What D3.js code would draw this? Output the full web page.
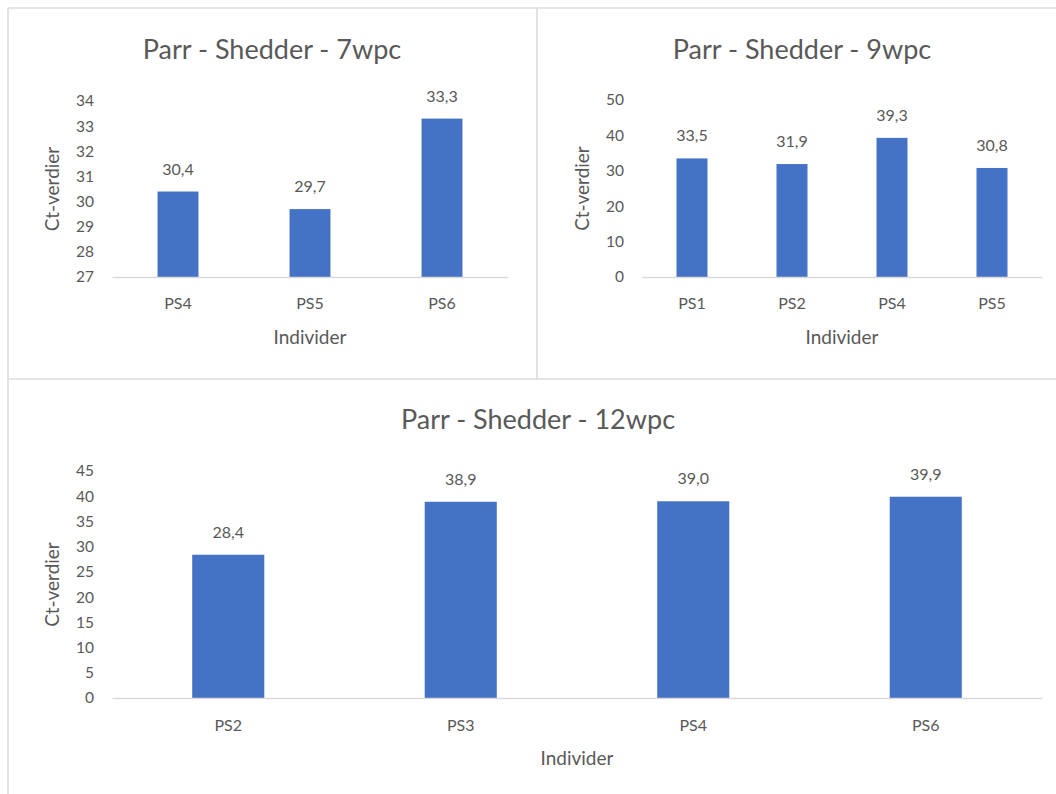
<!DOCTYPE html>
<html>
<head>
<meta charset="utf-8">
<script src="https://cdn.jsdelivr.net/npm/d3@7"></script>
<style>
  html, body { margin: 0; padding: 0; background: #fff; }
  svg { display: block; font-family: Lato, "Open Sans", sans-serif; }
</style>
</head>
<body>
<svg id="chart" width="1056" height="794"></svg>
<script>
// ---- data ----
const titles = ["Parr - Shedder - 7wpc", "Parr - Shedder - 9wpc", "Parr - Shedder - 12wpc"];
const cats7 = ["PS4", "PS5", "PS6"];
const vals7 = [30.4, 29.7, 33.3];
const ticks7 = [27, 28, 29, 30, 31, 32, 33, 34];
const cats9 = ["PS1", "PS2", "PS4", "PS5"];
const vals9 = [33.5, 31.9, 39.3, 30.8];
const ticks9 = [0, 10, 20, 30, 40, 50];
const cats12 = ["PS2", "PS3", "PS4", "PS6"];
const vals12 = [28.4, 38.9, 39.0, 39.9];
const ticks12 = [0, 5, 10, 15, 20, 25, 30, 35, 40, 45];
const yTitle = "Ct-verdier";
const xTitle = "Individer";

const svg = d3.select("#chart");
const TEXT = "#595959", BAR = "#4472C4", GRID = "#d9d9d9";
const fmt = v => d3.format(".1f")(v).replace(".", ",");

// panel borders
const borders = [
  [8, 8, 1056, 8], [8, 8, 8, 794], [537, 8, 537, 379], [8, 379, 1056, 379]
];
svg.selectAll("line.border").data(borders).join("line")
  .attr("class", "border")
  .attr("x1", d => d[0]).attr("y1", d => d[1]).attr("x2", d => d[2]).attr("y2", d => d[3])
  .attr("stroke", "#dcdcdc").attr("stroke-width", 1.6);

const panels = [
  { title: titles[0], cats: cats7, vals: vals7, ticks: ticks7, xr: [112, 508], yr: [277, 101], titleX: 272, titleY: 59, yTitleX: 59, xTitleY: 344, padX: 21 },
  { title: titles[1], cats: cats9, vals: vals9, ticks: ticks9, xr: [642, 1042], yr: [277, 100], titleX: 802, titleY: 59, yTitleX: 589, xTitleY: 344, padX: 21 },
  { title: titles[2], cats: cats12, vals: vals12, ticks: ticks12, xr: [112, 1042], yr: [698, 471], titleX: 538, titleY: 429, yTitleX: 59, xTitleY: 765, padX: 22 }
];

panels.forEach(p => {
  const g = svg.append("g");
  const x = d3.scaleBand().domain(p.cats).range(p.xr).paddingInner(0.69).paddingOuter(0.345);
  const y = d3.scaleLinear().domain([p.ticks[0], p.ticks[p.ticks.length - 1]]).range(p.yr);

  // title
  g.append("text").attr("x", p.titleX).attr("y", p.titleY)
    .attr("text-anchor", "middle").attr("fill", TEXT)
    .style("font-size", "27px").text(p.title);

  // y axis (labels only)
  const ya = g.append("g").attr("transform", `translate(${p.xr[0]},0)`)
    .call(d3.axisLeft(y).tickValues(p.ticks).tickSize(0).tickPadding(18).tickFormat(d3.format("d")));
  ya.select(".domain").remove();
  ya.selectAll("text").attr("fill", TEXT).style("font-size", "15.5px").style("font-family", "Lato, sans-serif");

  // bars
  g.selectAll("rect").data(p.cats).join("rect")
    .attr("x", d => x(d)).attr("width", x.bandwidth())
    .attr("y", (d, i) => y(p.vals[i]))
    .attr("height", (d, i) => y(p.ticks[0]) - y(p.vals[i]))
    .attr("fill", BAR);

  // value labels
  g.selectAll("text.val").data(p.cats).join("text")
    .attr("class", "val")
    .attr("x", d => x(d) + x.bandwidth() / 2)
    .attr("y", (d, i) => y(p.vals[i]) - 17)
    .attr("text-anchor", "middle").attr("fill", TEXT)
    .style("font-size", "16px")
    .text((d, i) => fmt(p.vals[i]));

  // x axis
  const xa = g.append("g").attr("transform", `translate(0,${y(p.ticks[0])})`)
    .call(d3.axisBottom(x).tickSize(0).tickPadding(p.padX));
  xa.select(".domain").attr("stroke", GRID).attr("stroke-width", 1.5);
  xa.selectAll("text").attr("fill", TEXT).style("font-size", "16px").style("font-family", "Lato, sans-serif");

  // axis titles
  g.append("text").attr("x", (p.xr[0] + p.xr[1]) / 2).attr("y", p.xTitleY)
    .attr("text-anchor", "middle").attr("fill", TEXT).style("font-size", "19px").text(xTitle);
  const yMid = (p.yr[0] + p.yr[1]) / 2;
  g.append("text").attr("transform", `translate(${p.yTitleX},${yMid}) rotate(-90)`)
    .attr("text-anchor", "middle").attr("fill", TEXT).style("font-size", "19px").text(yTitle);
});
</script>
</body>
</html>
